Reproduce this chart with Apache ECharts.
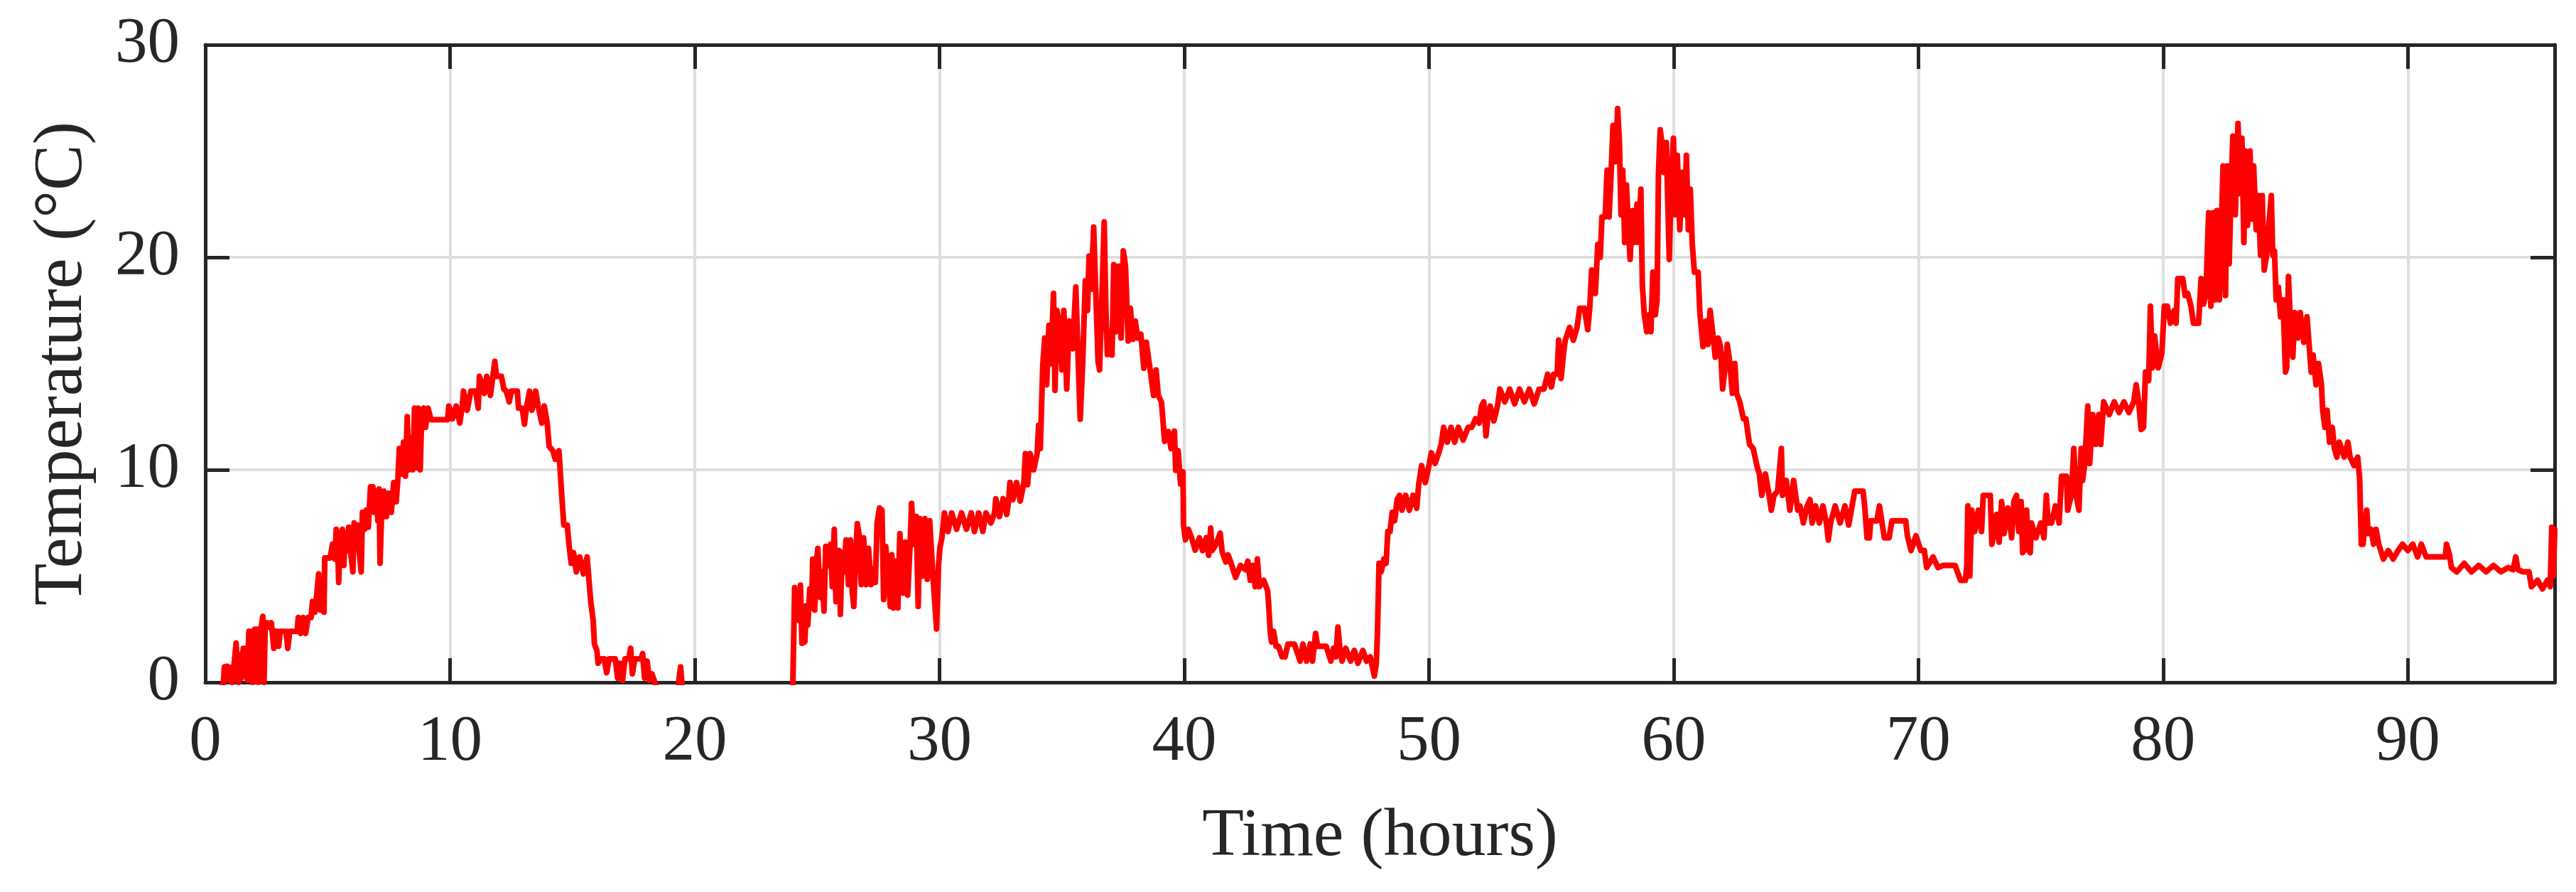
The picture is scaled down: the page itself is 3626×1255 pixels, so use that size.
<!DOCTYPE html>
<html>
<head>
<meta charset="utf-8">
<script src="https://cdn.jsdelivr.net/npm/echarts@6/dist/echarts.min.js"></script>
<style>html,body{margin:0;padding:0;background:#fff;}#chart{width:3626px;height:1255px;}</style>
</head>
<body>
<div id="chart"></div>
<script>
// Temperature readings [hour, °C], one array per day (values below 0 fall outside the axis)
const day1 = [[0,-1.5],[0.6,-0.6],[0.74,0],[0.78,0.73],[0.9,0.75],[0.97,0.1],[1.04,0.7],[1.1,0],[1.18,0.9],[1.26,1.85],[1.31,0.3],[1.36,0],[1.42,1.3],[1.48,0.2],[1.55,1.6],[1.6,0.7],[1.66,1.6],[1.72,0.1],[1.78,2.4],[1.85,1.5],[1.9,2.4],[1.93,0],[1.97,1.2],[2.02,2.5],[2.08,1.6],[2.12,2.5],[2.16,0],[2.22,0.4],[2.27,2.5],[2.35,3.1],[2.4,0],[2.45,2.8],[2.55,2.8],[2.62,2.6],[2.7,2.8],[2.8,1.6],[2.86,2.4],[2.93,2.4],[3.0,1.7],[3.06,2.4],[3.3,2.4],[3.37,1.6],[3.45,2.4],[3.75,2.4],[3.8,3.05],[3.9,2.3],[4.0,3.05],[4.1,2.3],[4.2,3.05],[4.32,3.05],[4.38,3.8],[4.48,3.3],[4.56,4.2],[4.63,5.1],[4.7,3.4],[4.78,4.4],[4.85,3.3],[4.88,5.85],[5.1,5.85],[5.2,6.5],[5.3,5.8],[5.35,7.2],[5.42,6.0],[5.45,4.7],[5.52,6.8],[5.6,7.2],[5.66,5.5],[5.72,7.0],[5.8,6.2],[5.86,7.3],[5.95,6.0],[6.03,5.2],[6.08,7.5],[6.15,6.3],[6.22,7.4],[6.3,6.0],[6.37,5.2],[6.42,8.0],[6.5,7.2],[6.58,8.1],[6.66,7.3],[6.75,9.2],[6.85,9.2],[6.9,8.0],[6.98,9.0],[7.05,7.6],[7.1,9.1],[7.14,5.6],[7.2,7.8],[7.3,9.0],[7.4,7.8],[7.5,8.9],[7.6,8.0],[7.7,9.4],[7.8,8.5],[7.87,9.6],[7.93,11.0],[8.02,9.8],[8.1,11.3],[8.18,9.7],[8.25,12.5],[8.32,10.0],[8.4,11.5],[8.48,10.0],[8.55,12.9],[8.62,10.1],[8.7,12.9],[8.78,10.0],[8.85,12.8],[8.92,12.9],[9.0,12.0],[9.1,12.9],[9.22,12.36],[9.9,12.36],[9.95,13.0],[10.1,12.4],[10.25,13.0],[10.4,12.2],[10.5,13.0],[10.55,13.7],[10.7,12.8],[10.85,13.7],[11.05,13.7],[11.15,12.9],[11.2,14.4],[11.4,13.6],[11.5,14.4],[11.65,13.5],[11.75,14.4],[11.83,15.1],[11.9,14.4],[12.1,14.4],[12.2,13.8],[12.3,13.7],[12.42,13.2],[12.5,13.7],[12.75,13.7],[12.8,12.9],[12.95,12.9],[13.04,12.15],[13.12,12.9],[13.25,13.7],[13.35,12.8],[13.5,13.7],[13.6,13.0],[13.75,12.2],[13.85,13.0],[13.97,12.2],[14.05,11.1],[14.2,10.9],[14.3,10.5],[14.45,10.9],[14.57,8.7],[14.65,7.4],[14.79,7.4],[14.86,6.5],[14.95,5.6],[15.05,6.1],[15.16,5.2],[15.3,5.9],[15.45,5.1],[15.6,5.9],[15.75,3.8],[15.85,2.9],[15.9,1.8],[16.0,1.5],[16.05,0.9],[16.15,1.1],[16.3,1.1],[16.4,0.45],[16.5,1.1],[16.75,1.1],[16.85,0.2],[16.95,0.9],[17.05,0.1],[17.15,1.1],[17.3,1.1],[17.38,1.6],[17.45,0.4],[17.55,1.1],[17.8,1.1],[17.87,1.35],[17.95,0.2],[18.05,1.0],[18.15,0.1],[18.25,0.4],[18.37,0],[18.5,-0.6],[19.0,-1.0],[19.3,-0.4],[19.42,0.73],[19.5,-0.4],[20.0,-1.6],[21.0,-2.4],[22.0,-2.8],[23.0,-2.2],[23.9,-1.0]];
const day2 = [[24.0,-0.5],[24.05,2.5],[24.08,4.46],[24.14,3.1],[24.2,4.0],[24.28,2.9],[24.32,4.57],[24.38,1.84],[24.5,1.9],[24.56,3.6],[24.62,2.7],[24.7,4.4],[24.78,3.5],[24.82,5.8],[24.9,3.4],[24.97,5.6],[25.03,6.3],[25.12,4.0],[25.2,5.2],[25.28,3.35],[25.35,6.4],[25.45,5.5],[25.55,6.5],[25.62,4.5],[25.7,7.2],[25.77,3.8],[25.82,5.5],[25.9,6.2],[25.95,3.2],[26.02,6.1],[26.1,5.2],[26.18,6.7],[26.28,4.6],[26.36,6.7],[26.44,4.2],[26.5,3.57],[26.56,5.6],[26.64,7.47],[26.72,6.9],[26.8,4.6],[26.9,6.8],[27.0,4.6],[27.1,6.3],[27.2,4.6],[27.28,5.35],[27.38,4.7],[27.45,7.5],[27.55,8.2],[27.65,8.1],[27.72,3.9],[27.8,6.4],[27.9,5.2],[27.99,3.57],[28.05,6.0],[28.12,3.5],[28.2,5.7],[28.3,3.5],[28.38,7.0],[28.45,5.4],[28.52,4.2],[28.6,6.6],[28.7,4.1],[28.8,6.5],[28.86,8.42],[28.95,6.5],[29.05,7.8],[29.13,3.57],[29.2,7.7],[29.3,5.0],[29.4,7.7],[29.5,4.85],[29.6,7.6],[29.7,5.6],[29.78,4.2],[29.88,2.51],[29.96,5.5],[30.02,6.35],[30.1,6.8],[30.2,7.97],[30.35,7.1],[30.5,7.97],[30.7,7.2],[30.9,7.97],[31.1,7.2],[31.3,7.97],[31.43,7.1],[31.6,7.97],[31.77,7.1],[31.9,7.97],[32.1,7.5],[32.25,7.97],[32.3,8.64],[32.45,7.8],[32.6,8.64],[32.75,7.9],[32.83,8.6],[32.88,9.41],[33.0,8.6],[33.15,9.4],[33.3,8.53],[33.45,9.41],[33.51,10.76],[33.6,9.3],[33.7,10.76],[33.85,10.0],[33.99,10.76],[34.05,12.1],[34.12,11.0],[34.22,14.9],[34.3,16.2],[34.38,14.0],[34.47,16.8],[34.55,15.0],[34.66,18.3],[34.72,13.74],[34.8,17.5],[34.9,16.8],[35.0,14.7],[35.08,17.5],[35.2,13.8],[35.3,17.0],[35.44,15.7],[35.57,18.6],[35.65,15.8],[35.75,12.38],[35.85,15.0],[35.96,18.9],[36.05,17.5],[36.11,20.06],[36.2,18.5],[36.3,21.42],[36.38,18.6],[36.48,15.1],[36.54,14.7],[36.62,17.5],[36.73,21.66],[36.8,17.5],[36.86,15.42],[36.95,16.5],[37.05,15.4],[37.12,19.66],[37.2,16.5],[37.32,19.58],[37.42,16.2],[37.51,20.3],[37.6,19.6],[37.71,16.06],[37.8,17.6],[37.9,16.14],[38.0,17.0],[38.1,16.2],[38.23,16.38],[38.35,14.78],[38.45,16.0],[38.61,14.7],[38.75,13.5],[38.85,14.7],[38.94,13.5],[39.07,13.19],[39.2,11.34],[39.35,11.8],[39.46,11.0],[39.6,11.82],[39.65,9.98],[39.75,10.9],[39.85,9.34],[39.95,9.9],[39.97,7.42],[40.05,6.71],[40.17,7.2],[40.3,6.8],[40.45,6.22],[40.62,6.8],[40.75,6.2],[40.9,6.8],[41.0,5.98],[41.08,7.26],[41.14,6.2],[41.3,6.5],[41.47,7.02],[41.55,6.14],[41.7,5.66],[41.79,6.0],[41.9,5.66],[42.1,4.94],[42.3,5.5],[42.5,5.3],[42.6,5.7],[42.7,4.8],[42.8,5.5],[42.9,4.5],[42.99,5.8],[43.07,4.5],[43.25,4.8],[43.41,4.3],[43.46,3.5],[43.52,2.3],[43.57,1.9],[43.65,2.4],[43.75,1.7],[43.85,1.7],[44.0,1.2],[44.12,1.2],[44.24,1.8],[44.5,1.8],[44.74,1.0],[44.85,1.8],[45.0,1.0],[45.15,1.8],[45.24,1.0],[45.32,1.8],[45.37,2.3],[45.45,1.7],[45.8,1.7],[45.99,1.0],[46.1,1.6],[46.2,1.2],[46.28,2.6],[46.36,1.6],[46.45,1.0],[46.6,1.6],[46.8,1.0],[46.95,1.5],[47.1,0.9],[47.3,1.5],[47.45,1.0],[47.6,1.2],[47.77,0.3],[47.85,0.9],[47.9,2.5],[47.96,5.6]];
const day3 = [[48.05,5.2],[48.16,5.8],[48.25,5.6],[48.32,7.1],[48.41,7.1],[48.5,8.0],[48.6,7.6],[48.7,8.6],[48.8,8.8],[48.9,8.1],[49.05,8.8],[49.2,8.1],[49.35,8.8],[49.5,8.2],[49.58,9.3],[49.7,10.2],[49.85,9.4],[50.0,10.2],[50.1,10.8],[50.25,10.3],[50.4,10.8],[50.5,11.2],[50.6,12.0],[50.75,11.3],[50.9,12.0],[51.05,11.3],[51.2,12.0],[51.4,11.4],[51.6,12.0],[51.75,12.0],[51.9,12.4],[52.05,12.2],[52.15,13.0],[52.24,13.2],[52.33,11.6],[52.4,12.4],[52.5,13.0],[52.65,12.3],[52.8,13.0],[52.9,13.8],[53.1,13.2],[53.3,13.8],[53.5,13.1],[53.7,13.8],[53.9,13.2],[54.1,13.8],[54.3,13.1],[54.5,13.8],[54.7,13.8],[54.85,14.5],[55.0,13.9],[55.1,14.5],[55.24,14.5],[55.3,16.1],[55.4,14.3],[55.5,15.5],[55.57,16.1],[55.75,16.7],[55.9,16.1],[56.05,16.7],[56.16,17.6],[56.35,17.6],[56.49,16.6],[56.57,17.6],[56.65,19.4],[56.8,18.3],[56.9,20.6],[57.0,20.0],[57.07,21.9],[57.2,21.9],[57.28,24.1],[57.36,21.9],[57.45,24.1],[57.52,26.2],[57.62,24.5],[57.71,27.0],[57.78,25.5],[57.85,22.0],[57.92,24.1],[58.0,20.7],[58.07,23.4],[58.15,21.5],[58.22,19.9],[58.32,22.2],[58.42,20.7],[58.5,22.5],[58.57,20.7],[58.66,23.2],[58.72,18.7],[58.8,17.3],[58.9,16.5],[59.0,17.3],[59.07,16.5],[59.15,19.3],[59.25,17.3],[59.32,18.0],[59.38,24.0],[59.45,26.0],[59.52,25.4],[59.6,24.0],[59.7,25.4],[59.82,19.9],[59.9,23.5],[59.99,25.6],[60.07,22.0],[60.15,24.8],[60.25,21.3],[60.35,24.0],[60.45,22.0],[60.52,24.8],[60.6,21.3],[60.68,23.2],[60.76,20.6],[60.85,19.3],[61.0,19.3],[61.07,17.4],[61.2,15.8],[61.32,17.0],[61.4,15.9],[61.49,17.5],[61.58,16.6],[61.7,15.3],[61.82,16.2],[61.91,15.8],[62.0,13.8],[62.1,14.8],[62.19,15.9],[62.28,15.2],[62.4,13.6],[62.5,15.0],[62.57,13.6],[62.7,13.2],[62.85,12.4],[62.95,12.4],[63.1,11.2],[63.25,11.0],[63.4,10.2],[63.5,9.8],[63.6,8.8],[63.75,9.8],[63.9,8.8],[63.99,8.1],[64.1,8.8],[64.25,9.0],[64.4,11.0],[64.45,8.8],[64.6,9.5],[64.75,8.1],[64.9,9.5],[65.07,8.1],[65.16,8.3],[65.3,7.5],[65.45,8.3],[65.57,8.6],[65.66,7.5],[65.8,8.3],[65.95,7.5],[66.1,8.3],[66.24,7.5],[66.32,6.7],[66.41,7.5],[66.6,8.3],[66.8,7.5],[67.0,8.3],[67.15,7.4],[67.29,8.3],[67.4,9.0],[67.6,9.0],[67.74,9.0],[67.82,8.1],[67.9,6.8],[68.0,6.8],[68.05,7.6],[68.3,7.6],[68.41,8.3],[68.5,7.6],[68.61,6.8],[68.8,6.8],[68.92,7.6],[69.2,7.6],[69.48,7.6],[69.55,6.9],[69.7,6.2],[69.9,6.9],[70.1,6.2],[70.24,6.2],[70.34,5.4],[70.6,5.9],[70.8,5.4],[71.0,5.5],[71.26,5.5],[71.5,5.5],[71.72,4.8],[71.92,4.8],[71.98,5.5]];
const day4 = [[72.02,8.3],[72.1,5.0],[72.18,8.1],[72.3,7.1],[72.45,8.1],[72.58,7.1],[72.65,8.8],[72.94,8.8],[73.0,6.5],[73.1,7.0],[73.2,7.9],[73.3,6.6],[73.4,8.5],[73.5,7.0],[73.65,8.2],[73.81,6.8],[73.9,8.5],[74.01,8.8],[74.1,7.1],[74.2,8.5],[74.26,6.1],[74.35,6.3],[74.42,8.1],[74.5,6.2],[74.57,6.1],[74.62,7.5],[74.8,6.8],[75.0,7.5],[75.13,6.8],[75.23,8.8],[75.3,7.5],[75.44,7.5],[75.6,8.3],[75.75,7.5],[75.85,9.7],[76.05,9.7],[76.1,8.1],[76.25,8.8],[76.35,11.0],[76.45,8.8],[76.56,8.1],[76.65,11.0],[76.71,9.5],[76.8,10.3],[76.92,13.0],[77.0,10.3],[77.12,12.6],[77.25,11.2],[77.37,12.6],[77.45,11.2],[77.57,13.2],[77.8,12.6],[78.0,13.2],[78.2,12.7],[78.4,13.2],[78.6,12.7],[78.8,13.2],[78.9,14.0],[79.0,13.2],[79.1,11.9],[79.2,12.0],[79.28,14.6],[79.41,14.2],[79.48,17.7],[79.56,14.8],[79.65,16.3],[79.8,14.8],[79.95,15.5],[80.05,17.7],[80.17,17.7],[80.3,16.9],[80.45,17.5],[80.53,16.9],[80.6,19.0],[80.8,19.0],[80.9,18.2],[81.0,18.3],[81.14,17.7],[81.24,16.9],[81.45,16.9],[81.55,19.0],[81.65,17.8],[81.75,18.3],[81.86,22.1],[81.95,17.7],[82.05,22.1],[82.11,18.0],[82.2,22.2],[82.3,18.0],[82.38,21.5],[82.45,24.3],[82.55,18.2],[82.62,24.3],[82.7,19.7],[82.78,23.3],[82.85,25.7],[82.95,22.0],[83.06,26.3],[83.15,23.0],[83.22,25.6],[83.3,20.7],[83.36,25.0],[83.45,21.5],[83.55,25.0],[83.62,21.8],[83.7,24.3],[83.8,21.3],[83.89,22.9],[83.98,20.1],[84.05,22.9],[84.13,19.4],[84.23,20.1],[84.32,21.5],[84.42,22.9],[84.48,20.1],[84.55,20.3],[84.62,18.0],[84.71,18.6],[84.8,17.2],[84.9,18.0],[85.0,14.6],[85.05,14.8],[85.12,19.1],[85.2,17.0],[85.3,15.3],[85.38,17.4],[85.5,16.2],[85.6,17.4],[85.75,16.0],[85.88,17.2],[85.95,16.1],[86.05,14.6],[86.13,15.4],[86.25,14.0],[86.35,15.0],[86.47,14.0],[86.52,12.8],[86.61,12.0],[86.7,12.8],[86.8,11.3],[86.91,12.0],[87.0,11.0],[87.1,10.6],[87.2,11.3],[87.4,10.6],[87.55,11.3],[87.64,10.6],[87.8,10.2],[87.95,10.6],[88.03,9.6],[88.1,6.5],[88.17,6.5],[88.25,7.5],[88.32,8.1],[88.38,7.0],[88.5,7.2],[88.6,6.5],[88.7,7.2],[88.81,6.5],[89.0,5.8],[89.2,6.2],[89.4,5.8],[89.6,6.2],[89.78,6.5],[90.0,6.2],[90.2,6.5],[90.4,5.9],[90.55,6.5],[90.75,5.9],[91.2,5.9],[91.53,5.9],[91.58,6.5],[91.7,6.0],[91.78,5.4],[92.0,5.2],[92.3,5.6],[92.6,5.2],[92.9,5.5],[93.2,5.2],[93.5,5.5],[93.8,5.2],[94.1,5.4],[94.3,5.3],[94.41,5.9],[94.5,5.3],[94.7,5.2],[94.95,5.2],[95.05,4.5],[95.3,4.8],[95.5,4.4],[95.7,4.8],[95.82,4.5],[95.88,7.3],[95.95,5.0],[96.0,7.2]];

const xTicks = [0, 10, 20, 30, 40, 50, 60, 70, 80, 90];
const yTicks = [0, 10, 20, 30];
const xTitle = 'Time (hours)';
const yTitle = 'Temperature (°C)';

const serif = "'Liberation Serif', 'DejaVu Serif', serif";
const ink = '#262626';
const axisLineStyle = { color: ink, width: 5 };
const tickStyle = { show: true, inside: true, length: 34, lineStyle: { color: ink, width: 5 } };
const gridStyle = { show: true, lineStyle: { color: '#dedede', width: 4 } };

const chart = echarts.init(document.getElementById('chart'), null, { renderer: 'canvas' });
chart.setOption({
  animation: false,
  backgroundColor: '#ffffff',
  grid: { left: 289, right: 30, top: 63, bottom: 295, containLabel: false },
  xAxis: [
    {
      type: 'value', min: xTicks[0], max: 96, interval: 10, position: 'bottom',
      axisLine: { show: true, onZero: false, lineStyle: axisLineStyle },
      axisTick: tickStyle,
      splitLine: gridStyle,
      axisLabel: {
        fontFamily: serif, fontSize: 91, color: ink, margin: 40,
        formatter: v => (xTicks.indexOf(v) >= 0 ? String(v) : '')
      },
      name: xTitle, nameLocation: 'middle', nameGap: 170,
      nameTextStyle: { fontFamily: serif, fontSize: 96, color: ink }
    },
    {
      type: 'value', min: xTicks[0], max: 96, interval: 10, position: 'top',
      axisLine: { show: true, onZero: false, lineStyle: axisLineStyle },
      axisTick: tickStyle, splitLine: { show: false }, axisLabel: { show: false }
    }
  ],
  yAxis: [
    {
      type: 'value', min: yTicks[0], max: yTicks[yTicks.length - 1], interval: 10, position: 'left',
      axisLine: { show: true, onZero: false, lineStyle: axisLineStyle },
      axisTick: tickStyle,
      splitLine: gridStyle,
      axisLabel: { fontFamily: serif, fontSize: 91, color: ink, margin: 36 },
      name: yTitle, nameLocation: 'middle', nameGap: 152,
      nameTextStyle: { fontFamily: serif, fontSize: 97, color: ink }
    },
    {
      type: 'value', min: yTicks[0], max: yTicks[yTicks.length - 1], interval: 10, position: 'right',
      axisLine: { show: true, onZero: false, lineStyle: axisLineStyle },
      axisTick: tickStyle, splitLine: { show: false }, axisLabel: { show: false }
    }
  ],
  series: [{
    type: 'line',
    xAxisIndex: 0, yAxisIndex: 0,
    data: day1.concat(day2, day3, day4),
    showSymbol: false, symbol: 'none', clip: true, z: 5,
    lineStyle: { color: '#ff0000', width: 8, join: 'round', cap: 'round' }
  }]
});
</script>
</body>
</html>
